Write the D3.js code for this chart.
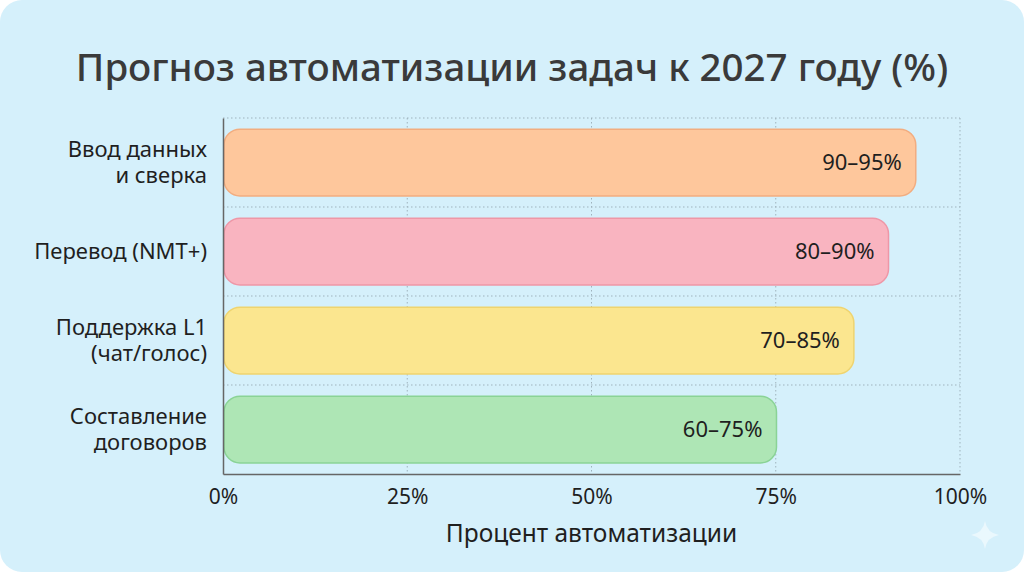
<!DOCTYPE html>
<html>
  <head>
    <meta charset="utf-8">
    <title>Прогноз автоматизации задач к 2027 году (%)</title>
    <script src="https://d3js.org/d3.v7.min.js"></script>
    <style>
      body { margin: 0; background: #ffffff; }
      text { font-family: "Noto Sans", "DejaVu Sans", sans-serif; }
    </style>
  </head>
  <body>
    <svg id="canvas" width="1024" height="572"></svg>

    <script>
      // data
      var categories = ["Ввод данных\nи сверка", "Перевод (NMT+)", "Поддержка L1\n(чат/голос)", "Составление\nдоговоров"];
      var values = [94, 90.3, 85.6, 75.1];
      var valueLabels = ["90–95%", "80–90%", "70–85%", "60–75%"];
      var ticks = [0, 25, 50, 75, 100];
      var fills = ["#fec79c", "#f9b4c0", "#fbe68f", "#aee6b5"];
      var strokes = ["#f2ad80", "#ee97a7", "#efd46f", "#8ad396"];

      var svg = d3.select("#canvas");

      // card background
      svg.append("rect")
        .attr("x", 0).attr("y", 0)
        .attr("width", 1024).attr("height", 572)
        .attr("rx", 22)
        .style("fill", "#d5f0fb");

      var plotLeft = 223, plotRight = 960, plotTop = 118, plotBottom = 474;

      var x = d3.scaleLinear().domain([0, 100]).range([plotLeft, plotRight]);
      var y = d3.scaleBand().domain(categories).range([plotTop, plotBottom])
        .paddingInner(0.25).paddingOuter(0.125);
      var step = y.step();

      // title
      svg.append("text")
        .attr("x", 512).attr("y", 81)
        .attr("text-anchor", "middle")
        .style("font-size", "38.5px")
        .style("font-weight", "500")
        .style("fill", "#3a3a3a")
        .text("Прогноз автоматизации задач к 2027 году (%)");

      // vertical dotted grid
      svg.selectAll(".vgrid")
        .data(ticks.slice(1))
        .enter()
        .append("line")
        .attr("x1", function(d){ return x(d); })
        .attr("x2", function(d){ return x(d); })
        .attr("y1", plotTop).attr("y2", plotBottom)
        .style("stroke", "#9fb3bd")
        .style("stroke-width", 1)
        .style("stroke-dasharray", "1.5,2.5");

      // horizontal dotted grid between bands
      svg.selectAll(".hgrid")
        .data(categories)
        .enter()
        .append("line")
        .attr("x1", plotLeft).attr("x2", plotRight)
        .attr("y1", function(d){ return y(d) - step * 0.125; })
        .attr("y2", function(d){ return y(d) - step * 0.125; })
        .style("stroke", "#9fb3bd")
        .style("stroke-width", 1)
        .style("stroke-dasharray", "1.5,2.5");

      // bars
      svg.selectAll(".bar")
        .data(categories)
        .enter()
        .append("rect")
        .attr("x", x(0) + 1)
        .attr("y", function(d){ return y(d); })
        .attr("width", function(d, i){ return x(values[i]) - x(0) - 1; })
        .attr("height", y.bandwidth())
        .attr("rx", 16)
        .style("fill", function(d, i){ return fills[i]; })
        .style("stroke", function(d, i){ return strokes[i]; })
        .style("stroke-width", 1.5);

      // value labels inside bars
      svg.selectAll(".val")
        .data(categories)
        .enter()
        .append("text")
        .attr("x", function(d, i){ return x(values[i]) - 14; })
        .attr("y", function(d){ return y(d) + y.bandwidth() / 2; })
        .attr("dy", "0.35em")
        .attr("text-anchor", "end")
        .style("font-size", "22px")
        .style("fill", "#1f1f1f")
        .text(function(d, i){ return valueLabels[i]; });

      // axes
      var xAxis = svg.append("g")
        .attr("transform", "translate(0," + plotBottom + ")")
        .call(d3.axisBottom(x).tickValues(ticks).tickSize(0).tickPadding(15)
          .tickFormat(function(d){ return d + "%"; }));
      xAxis.select(".domain").style("stroke", "#666").style("stroke-width", 1.5);
      xAxis.selectAll("text")
        .style("font-size", "21px")
        .style("fill", "#1f1f1f");

      var yAxis = svg.append("g")
        .attr("transform", "translate(" + plotLeft + ",0)")
        .call(d3.axisLeft(y).tickSize(0).tickFormat(""));
      yAxis.select(".domain").style("stroke", "#666").style("stroke-width", 1.5);

      // category labels, split into lines
      svg.selectAll(".cat")
        .data(categories)
        .enter()
        .append("text")
        .attr("text-anchor", "end")
        .style("font-size", "22px")
        .style("fill", "#1f1f1f")
        .each(function(d){
          var lines = d.split("\n");
          var cy = y(d) + y.bandwidth() / 2;
          var lh = 26;
          var t = d3.select(this);
          lines.forEach(function(line, k){
            t.append("tspan")
              .attr("x", 207)
              .attr("y", cy + (k - (lines.length - 1) / 2) * lh)
              .attr("dy", "0.35em")
              .text(line);
          });
        });

      // axis title
      svg.append("text")
        .attr("x", (plotLeft + plotRight) / 2).attr("y", 542)
        .attr("text-anchor", "middle")
        .style("font-size", "24.5px")
        .style("fill", "#1f1f1f")
        .text("Процент автоматизации");

      // faint sparkle in the corner
      svg.append("path")
        .attr("d", "M985,521 Q987,533 999,535 Q987,537 985,549 Q983,537 971,535 Q983,533 985,521 Z")
        .style("fill", "#ffffff")
        .style("opacity", 0.5);
    </script>
  </body>
</html>
